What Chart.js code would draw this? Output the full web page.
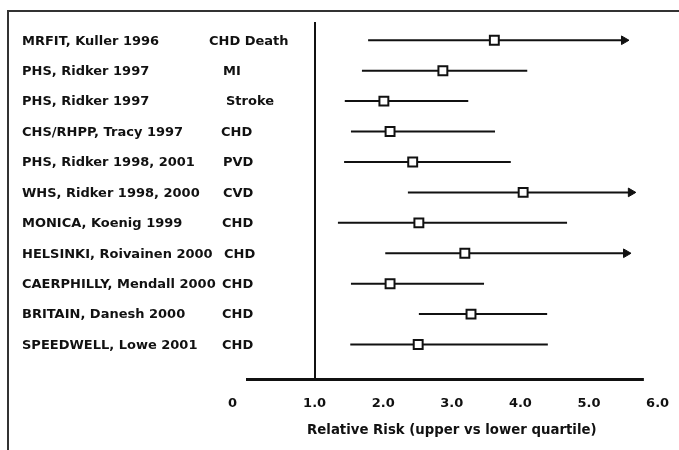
<!DOCTYPE html>
<html>
<head>
<meta charset="utf-8">
<script src="https://cdn.jsdelivr.net/npm/chart.js@4/dist/chart.umd.min.js"></script>
<style>
  html, body { margin: 0; padding: 0; background: #fff; }
  #wrap { position: relative; width: 679px; height: 450px; overflow: hidden; }
  #frame { position: absolute; left: 7px; top: 10px; width: 700px; height: 500px;
           border-top: 2px solid #333; border-left: 2px solid #333; }
  canvas { position: absolute; left: 0; top: 0; }
</style>
</head>
<body>
<div id="wrap">
  <div id="frame"></div>
  <canvas id="c" width="679" height="450"></canvas>
</div>
<script>
// ---- data ----
const studies = [
  "MRFIT, Kuller 1996",
  "PHS, Ridker 1997",
  "PHS, Ridker 1997",
  "CHS/RHPP, Tracy 1997",
  "PHS, Ridker 1998, 2001",
  "WHS, Ridker 1998, 2000",
  "MONICA, Koenig 1999",
  "HELSINKI, Roivainen 2000",
  "CAERPHILLY, Mendall 2000",
  "BRITAIN, Danesh 2000",
  "SPEEDWELL, Lowe 2001"
];
const outcomes = ["CHD Death", "MI", "Stroke", "CHD", "PVD", "CVD", "CHD", "CHD", "CHD", "CHD", "CHD"];
const relativeRisk = [3.62, 2.87, 2.01, 2.10, 2.43, 4.04, 2.52, 3.19, 2.10, 3.28, 2.51];
const lowerCI      = [1.78, 1.69, 1.44, 1.53, 1.43, 2.36, 1.34, 2.03, 1.53, 2.52, 1.52];
const upperCI      = [5.51, 4.10, 3.24, 3.63, 3.86, 5.61, 4.68, 5.54, 3.47, 4.39, 4.40];
const openEnded    = [true, false, false, false, false, true, false, true, false, false, false];
const xTicks = [0, 1, 2, 3, 4, 5, 6];
const xTickLabels = ["0", "1.0", "2.0", "3.0", "4.0", "5.0", "6.0"];
const referenceValue = 1.0;
const axisLineEnd = 5.8;
const axisTitle = "Relative Risk (upper vs lower quartile)";

// ---- layout (not data) ----
const studyX = 22;
const outcomeX = [209, 223, 226, 221, 223, 223, 222, 224, 222, 222, 222];
const FONT = '"DejaVu Sans", "Liberation Sans", Arial, sans-serif';

const rows = studies.map((_, i) => i);

const barDatasets = rows.map(i => ({
  type: 'line',
  data: [{ x: lowerCI[i], y: i }, { x: upperCI[i], y: i }],
  borderColor: '#111',
  borderWidth: 2,
  pointRadius: [0, openEnded[i] ? 5 : 0],
  pointStyle: 'triangle',
  rotation: 90,
  pointBackgroundColor: '#111',
  pointBorderColor: '#111',
  pointBorderWidth: 1,
  pointHoverRadius: 0,
  order: 2
}));

const pointDataset = {
  type: 'scatter',
  data: rows.map(i => ({ x: relativeRisk[i], y: i })),
  pointStyle: 'rect',
  pointRadius: 6.3,
  pointHoverRadius: 6.3,
  backgroundColor: '#fff',
  borderColor: '#111',
  borderWidth: 2,
  order: 0
};

const decorations = {
  id: 'decorations',
  beforeDatasetsDraw(chart) {
    const { ctx, chartArea, scales } = chart;
    const x = scales.x;
    ctx.save();
    ctx.strokeStyle = '#111';
    ctx.lineWidth = 2;
    const rx = Math.round(x.getPixelForValue(referenceValue));
    ctx.beginPath();
    ctx.moveTo(rx, chartArea.top);
    ctx.lineTo(rx, chartArea.bottom);
    ctx.stroke();
    ctx.lineWidth = 3;
    ctx.beginPath();
    ctx.moveTo(x.getPixelForValue(0), chartArea.bottom);
    ctx.lineTo(x.getPixelForValue(axisLineEnd), chartArea.bottom);
    ctx.stroke();
    ctx.restore();
  },
  afterDraw(chart) {
    const { ctx, scales } = chart;
    const y = scales.y;
    ctx.save();
    ctx.fillStyle = '#111';
    ctx.font = 'bold 13px ' + FONT;
    ctx.textBaseline = 'middle';
    ctx.textAlign = 'left';
    rows.forEach(i => {
      const py = y.getPixelForValue(i) + 1;
      ctx.fillText(studies[i], studyX, py);
      ctx.fillText(outcomes[i], outcomeX[i], py);
    });
    ctx.restore();
  }
};

new Chart(document.getElementById('c'), {
  data: { datasets: [pointDataset, ...barDatasets] },
  options: {
    responsive: false,
    animation: false,
    events: [],
    layout: { padding: { left: 246, right: 21.4, top: 22, bottom: 7.9 } },
    plugins: { legend: { display: false }, tooltip: { enabled: false } },
    scales: {
      x: {
        type: 'linear',
        min: 0, max: 6,
        afterBuildTicks(scale) { scale.ticks = xTicks.map(v => ({ value: v })); },
        grid: { display: true, drawOnChartArea: false, drawTicks: true, tickLength: 16, color: 'rgba(0,0,0,0)' },
        border: { display: false },
        ticks: {
          padding: 0,
          color: '#111',
          font: { family: FONT, size: 13, weight: 'bold' },
          callback: (v) => {
            const t = xTickLabels[xTicks.indexOf(v)];
            return v === 0 ? t + '\u2007\u2007\u2007' : t;
          }
        },
        title: {
          display: true,
          text: axisTitle,
          color: '#111',
          font: { family: FONT, size: 13.3, weight: 'bold' },
          padding: { top: 11, bottom: 4 }
        }
      },
      y: {
        type: 'linear',
        display: false,
        reverse: true,
        min: -0.6, max: 11.15
      }
    }
  },
  plugins: [decorations]
});
</script>
</body>
</html>
